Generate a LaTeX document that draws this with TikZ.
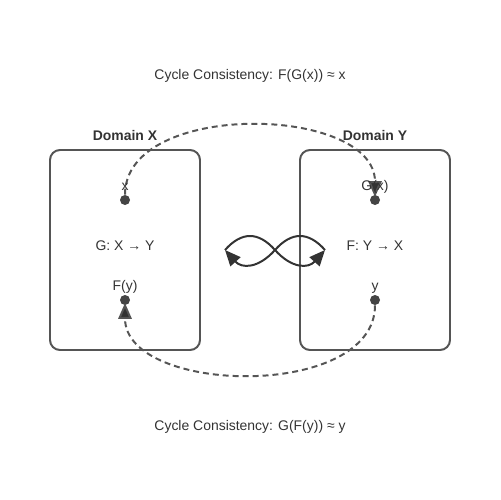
\documentclass[tikz,border=0pt]{standalone}
\usepackage{fontspec}
\setmainfont{Liberation Sans}
\usetikzlibrary{arrows.meta}
\definecolor{txt}{HTML}{333333}
\definecolor{edge}{HTML}{555555}
\definecolor{dotc}{HTML}{444444}
\begin{document}
\begin{tikzpicture}[x=0.02cm,y=-0.02cm,
  lbl/.style={font=\fontsize{7.94pt}{9.5pt}\selectfont, text=txt, anchor=base, inner sep=0pt},
  ttl/.style={lbl, font=\fontsize{7.94pt}{9.5pt}\selectfont\bfseries},
  domainbox/.style={draw=edge, line width=1.13pt, rounded corners=5.7pt},
  dotnode/.style={circle, fill=dotc, inner sep=0pt, minimum size=0.2cm},
  bigtip/.style={-{Triangle[length=9pt,width=7.6pt,fill=txt]}},
  cycarrow/.style={draw=edge, line width=1.13pt, dash pattern=on 3.4pt off 2.27pt, bigtip, shorten >=1.7pt},
  swaparrow/.style={draw=txt, line width=1.13pt, bigtip},
  ]
\useasboundingbox (0,0) rectangle (500,500);
\path[domainbox] (50,150) rectangle (200,350);
\path[domainbox] (300,150) rectangle (450,350);
\node[ttl] (tx) at (125,140) {Domain X};
\node[ttl] (ty) at (375,140) {Domain Y};
\node[lbl] (c1) at (250,80) {Cycle Consistency: F(G(x)) ≈ x};
\node[lbl] (c2) at (250,430) {Cycle Consistency: G(F(y)) ≈ y};
\node[lbl] (gmap) at (125,250) {G: X → Y};
\node[lbl] (fmap) at (375,250) {F: Y → X};
\node[dotnode] (dx) at (125,200) {};
\node[dotnode] (dfy) at (125,300) {};
\node[dotnode] (dgx) at (375,200) {};
\node[dotnode] (dy) at (375,300) {};
\draw[cycarrow] (dx.north) .. controls +(0,-95) and +(0,-95) .. (dgx.center);
\draw[cycarrow] (dy.south) .. controls +(0,95) and +(0,95) .. (dfy.center);
\node[lbl] (lx) at (125,190) {x};
\node[lbl] (lfy) at (125,290) {F(y)};
\node[lbl] (lgx) at (375,190) {G(x)};
\node[lbl] (ly) at (375,290) {y};
\coordinate (L) at (225,250);
\coordinate (M) at (275,250);
\coordinate (R) at (325,250);
\draw[swaparrow] (L) .. controls (241.67,231.33) and (258.33,231.33) .. (M)
  .. controls (291.67,268.67) and (308.33,268.67) .. (R);
\draw[swaparrow] (R) .. controls (308.33,231.33) and (291.67,231.33) .. (M)
  .. controls (258.33,268.67) and (241.67,268.67) .. (L);
\end{tikzpicture}
\end{document}
